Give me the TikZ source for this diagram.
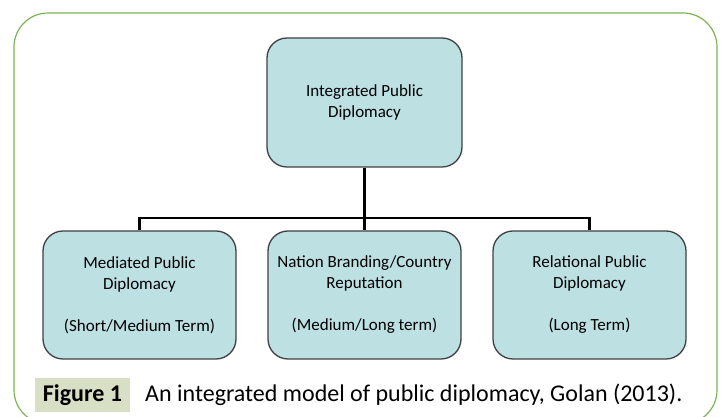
\documentclass[tikz,border=0pt]{standalone}
\usepackage{fontspec}
\setmainfont{Carlito}
\usetikzlibrary{positioning}
\definecolor{boxfill}{HTML}{BDE0E3}
\definecolor{boxline}{HTML}{404040}
\definecolor{framegreen}{HTML}{7CB358}
\definecolor{capfill}{HTML}{D7DFC4}

\begin{document}
\begin{tikzpicture}[x=1pt,y=1pt,node distance=225pt,
	line width=2.2pt]
	\tikzstyle{block}=[draw=boxline,fill=boxfill,line width=1.3pt,rounded corners=20pt,
	  minimum width=193pt,minimum height=128pt,align=center,
	  font=\fontsize{17}{21}\selectfont]
	\useasboundingbox (0,0) rectangle (721,417);
	\draw[framegreen,line width=1.2pt,rounded corners=34pt] (14,-7) rectangle (717,404);

	\node[block,minimum width=195pt,minimum height=129pt] (top) at (364.5,314.5) {Integrated Public\\Diplomacy};
	\node[block]                (nat) [below of=top,node distance=192.5pt] {Nation Branding/Country\\Reputation\\[21pt](Medium/Long term)};
	\node[block]                (med) [left of=nat]  {Mediated Public\\Diplomacy\\[21pt](Short/Medium Term)};
	\node[block]                (rel) [right of=nat] {Relational Public\\Diplomacy\\[21pt](Long Term)};

	\draw (top.south) -- ++(0,-50) -| (med.north);
	\draw (top.south) -- ++(0,-50) -| (rel.north);
	\draw (top.south) -- (nat.north);

	\node[fill=capfill,inner sep=0pt,minimum width=95pt,minimum height=34pt,
	  font=\bfseries\fontsize{24}{28}\selectfont] (fig) at (82.5,22) {Figure 1};
	\node[inner sep=0pt,font=\fontsize{24}{28}\selectfont] (cap) [right=13pt of fig] {An integrated model of public diplomacy, Golan (2013).};
\end{tikzpicture}
\end{document}
